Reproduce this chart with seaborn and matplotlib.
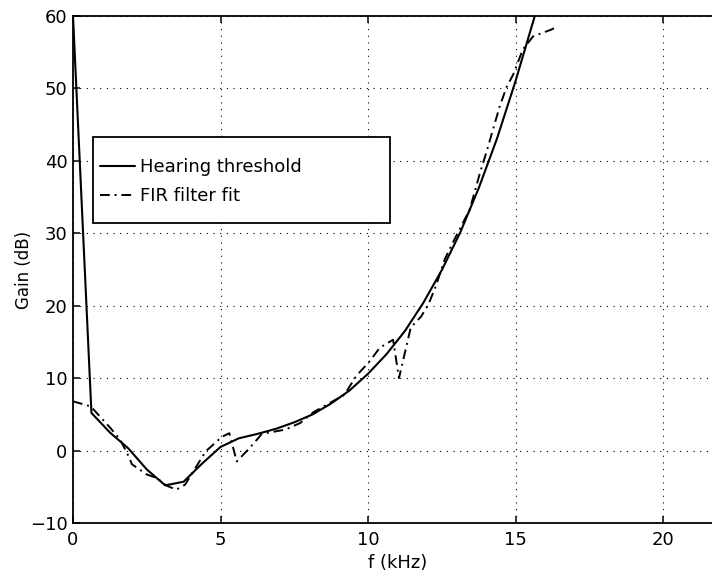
import matplotlib
matplotlib.use("Agg")
import matplotlib.pyplot as plt
import seaborn as sns
import pandas as pd
from matplotlib.patches import Rectangle

# ---- data ----
thr_f = [0.0, 0.625, 1.25, 1.875, 2.5, 3.125, 3.75, 4.375, 5.0, 5.625, 6.25,
         6.875, 7.5, 8.125, 8.75, 9.375, 10.0, 10.625, 11.25, 11.875, 12.5,
         13.125, 13.75, 14.375, 15.0, 15.625, 16.25]
thr_gain = [60.0, 5.2, 2.5, 0.3, -2.6, -4.8, -4.3, -1.8, 0.5, 1.7, 2.3,
            3.0, 3.9, 5.0, 6.5, 8.3, 10.6, 13.3, 16.5, 20.4, 24.9,
            30.1, 36.2, 43.1, 51.0, 59.6, 69.0]

fir_f = [0.0, 0.6, 1.25, 1.6, 1.85, 2.0, 2.5, 2.85, 3.15, 3.5, 3.8, 4.5, 5.05,
         5.3, 5.55, 6.0, 6.4, 7.2, 7.7, 8.15, 9.2, 9.6, 10.05, 10.4, 10.85,
         11.05, 11.45, 11.8, 12.05, 12.3, 12.6, 12.9, 13.1, 13.45, 13.8, 14.0,
         14.47, 14.7, 14.92, 15.25, 15.6, 16.2, 16.45]
fir_gain = [6.8, 6.1, 3.2, 1.5, -0.5, -1.9, -3.3, -3.8, -4.8, -5.4, -4.7, -0.1,
            1.9, 2.4, -1.5, 0.4, 2.3, 2.9, 3.8, 5.3, 7.7, 10.3, 12.3, 14.2,
            15.3, 10.0, 17.0, 18.5, 20.2, 22.7, 26.4, 28.9, 30.5, 33.3, 38.4,
            41.0, 47.6, 50.2, 51.9, 55.4, 57.2, 58.1, 58.6]

x_ticks = [0, 5, 10, 15, 20]
y_ticks = [-10, 0, 10, 20, 30, 40, 50, 60]
labels = ["Hearing threshold", "FIR filter fit"]

# ---- style ----
sns.set_style("ticks")
plt.rcParams["font.family"] = ["DejaVu Sans"]
plt.rcParams["axes.unicode_minus"] = True
plt.rcParams["text.color"] = "black"
plt.rcParams["axes.labelcolor"] = "black"
plt.rcParams["xtick.color"] = "black"
plt.rcParams["ytick.color"] = "black"

W, H = 712, 576
fig = plt.figure(figsize=(W / 100, H / 100), dpi=100)
ax_l, ax_r, ax_t, ax_b = 73, 722, 16, 523
ax = fig.add_axes([ax_l / W, 1 - ax_b / H, (ax_r - ax_l) / W, (ax_b - ax_t) / H])

df_thr = pd.DataFrame({"f": thr_f, "gain": thr_gain})
df_fir = pd.DataFrame({"f": fir_f, "gain": fir_gain})

sns.lineplot(data=df_thr, x="f", y="gain", ax=ax, color="black", lw=1.5,
             estimator=None, sort=False, label=labels[0], zorder=4)
sns.lineplot(data=df_fir, x="f", y="gain", ax=ax, color="black", lw=1.4,
             estimator=None, sort=False, label=labels[1], zorder=4,
             linestyle=(0, (5, 2.5, 1, 2.5)))

ax.set_xlim(0, 22)
ax.set_ylim(-10, 60)
ax.set_xticks(x_ticks)
ax.set_yticks(y_ticks)
ax.set_xticklabels([str(t) for t in x_ticks])
ax.set_yticklabels([("\u2212" + str(-t)) if t < 0 else str(t) for t in y_ticks])

ax.grid(True, color="black", linestyle=(0, (1, 5)), linewidth=0.8)
ax.set_axisbelow(True)

for s in ["left", "bottom", "top", "right"]:
    ax.spines[s].set_visible(True)
    ax.spines[s].set_color("black")
    ax.spines[s].set_linewidth(1.3)

ax.tick_params(axis="both", direction="in", length=5, width=1.1,
               labelsize=13, colors="black", labelcolor="black",
               top=True, right=True)
ax.tick_params(axis="x", pad=6)
ax.tick_params(axis="y", pad=4)

ax.set_xlabel("f (kHz)", fontsize=13, color="black")
ax.set_ylabel("Gain (dB)", fontsize=12, color="black")
ax.xaxis.set_label_coords(0.5, -0.061)
ax.xaxis.label.set_va("top")
ax.yaxis.set_label_coords((33 - ax_l) / (ax_r - ax_l), 0.5)

# legend box (axes coords)
aw, ah = ax_r - ax_l, ax_b - ax_t
bx0, bx1, by0, by1 = 93, 390, 137, 223
ax.add_patch(Rectangle(((bx0 - ax_l) / aw, (ax_b - by1) / ah),
                       (bx1 - bx0) / aw, (by1 - by0) / ah,
                       transform=ax.transAxes, facecolor="white",
                       edgecolor="black", lw=1.3, zorder=5))
leg = ax.legend(loc="upper left",
                bbox_to_anchor=((100 - ax_l) / aw, (ax_b - 158) / ah),
                frameon=False, fontsize=13, handlelength=1.94,
                handletextpad=0.25, borderpad=0, borderaxespad=0,
                labelspacing=0.6)
for t in leg.get_texts():
    t.set_color("black")
leg.set_zorder(6)

fig.savefig("out.png", dpi=100, facecolor="white")
